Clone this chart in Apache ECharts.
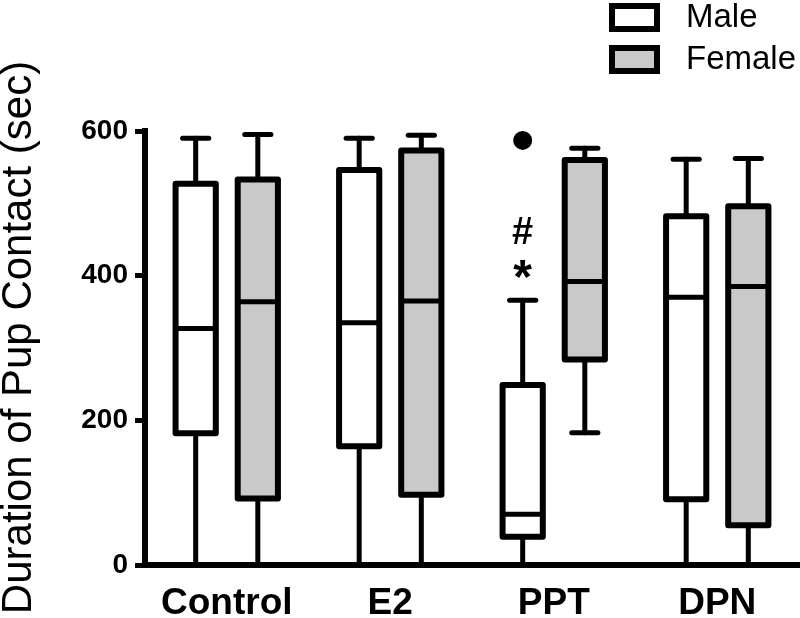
<!DOCTYPE html>
<html>
<head>
<meta charset="utf-8">
<script src="https://cdn.jsdelivr.net/npm/echarts@6/dist/echarts.min.js"></script>
<style>
html, body { margin: 0; padding: 0; background: #fff; }
#main { width: 800px; height: 618px; }
</style>
</head>
<body>
<div id="main"></div>
<script>
// groups on the x axis
const categories = ['Control', 'E2', 'PPT', 'DPN']
// [min, Q1, median, Q3, max] per group
const maleBox = [
  [0, 182, 327, 527, 590],
  [0, 164, 335, 546, 590],
  [0, 39, 70, 249, 366],
  [0, 91, 370, 482, 561]
]
const femaleBox = [
  [0, 92, 364, 533, 595],
  [0, 97, 365, 573, 594],
  [183, 284, 392, 560, 576],
  [0, 55, 385, 496, 562]
]
// [group index, value]
const maleOutliers = [[2, 587]]
// significance marks: [group index, text, value]
const marks = [[2, '#', 458], [2, '*', 395]]
const yTicks = [0, 200, 400, 600]

const femaleFill = '#c9c9c9'
const font = 'Liberation Sans, Arial, sans-serif'

// side: -1 male (left), 1 female (right)
function boxItem(side, fill) {
  return function (params, api) {
    let i = api.value(0)
    let band = api.size([1, 0])[0]
    let x = api.coord([i, 0])[0] + side * band * 0.19
    let half = band * 0.123
    let cap = band * 0.08
    let y = [1, 2, 3, 4, 5].map(k => api.coord([i, api.value(k)])[1])
    let line = (x1, y1, x2, y2, w) => ({
      type: 'line',
      shape: { x1, y1, x2, y2 },
      style: { stroke: '#000', lineWidth: w, lineCap: 'round' }
    })
    return {
      type: 'group',
      children: [
        line(x, y[0], x, y[1], 5),
        line(x - cap, y[0], x + cap, y[0], 5),
        line(x, y[3], x, y[4], 5),
        line(x - cap, y[4], x + cap, y[4], 5),
        {
          type: 'rect',
          shape: { x: x - half, y: y[3], width: half * 2, height: y[1] - y[3] },
          style: { fill: fill, stroke: '#000', lineWidth: 6, lineJoin: 'round' }
        },
        line(x - half, y[2], x + half, y[2], 5)
      ]
    }
  }
}

let chart = echarts.init(document.getElementById('main'), null, { renderer: 'canvas' })

let option = {
  animation: false,
  grid: { left: 145, right: 1, top: 131, bottom: 53, containLabel: false, outerBoundsMode: 'none' },
  legend: {
    orient: 'vertical',
    left: 604,
    top: -4,
    itemWidth: 45,
    itemHeight: 23,
    itemGap: 9,
    selectedMode: false,
    textStyle: { fontSize: 33, lineHeight: 33, color: '#000', fontFamily: font, padding: [0, 0, 0, 24] },
    data: [
      { name: 'Male', icon: 'rect', itemStyle: { color: '#fff', borderColor: '#000', borderWidth: 6 } },
      { name: 'Female', icon: 'rect', itemStyle: { color: femaleFill, borderColor: '#000', borderWidth: 6 } }
    ]
  },
  xAxis: {
    type: 'category',
    data: categories,
    boundaryGap: true,
    axisLine: { lineStyle: { color: '#000', width: 6, cap: 'square' } },
    axisTick: { show: false },
    axisLabel: { interval: 0, color: '#000', fontSize: 37, fontWeight: 'bold', fontFamily: font, margin: 20 },
    splitLine: { show: false }
  },
  yAxis: {
    type: 'value',
    min: yTicks[0],
    max: yTicks[yTicks.length - 1],
    interval: yTicks[1] - yTicks[0],
    name: 'Duration of Pup Contact (sec)',
    nameLocation: 'middle',
    nameGap: 105,
    nameTextStyle: { color: '#000', fontSize: 42, fontFamily: font, padding: [0, 0, 0, 21] },
    axisLine: { show: true, lineStyle: { color: '#000', width: 6, cap: 'square' } },
    axisTick: { show: true, length: 10, lineStyle: { color: '#000', width: 5 } },
    axisLabel: { color: '#000', fontSize: 28, fontWeight: 'bold', fontFamily: font, margin: 17 },
    splitLine: { show: false }
  },
  series: [
    {
      name: 'Male',
      type: 'custom',
      renderItem: boxItem(-1, '#fff'),
      itemStyle: { color: '#fff', borderColor: '#000' },
      encode: { x: 0, y: [1, 2, 3, 4, 5] },
      data: maleBox.map((d, i) => [i].concat(d)),
      z: 3
    },
    {
      name: 'Female',
      type: 'custom',
      renderItem: boxItem(1, femaleFill),
      itemStyle: { color: femaleFill, borderColor: '#000' },
      encode: { x: 0, y: [1, 2, 3, 4, 5] },
      data: femaleBox.map((d, i) => [i].concat(d)),
      z: 3
    },
    {
      name: 'outliers',
      type: 'custom',
      renderItem: function (params, api) {
        let band = api.size([1, 0])[0]
        let p = api.coord([api.value(0), api.value(1)])
        return {
          type: 'circle',
          shape: { cx: p[0] - band * 0.19, cy: p[1], r: 9.5 },
          style: { fill: '#000' }
        }
      },
      data: maleOutliers,
      z: 3
    },
    {
      name: 'marks',
      type: 'custom',
      renderItem: function (params, api) {
        let band = api.size([1, 0])[0]
        let p = api.coord([api.value(0), api.value(2)])
        let txt = marks[params.dataIndex][1]
        return {
          type: 'text',
          x: p[0] - band * 0.19,
          y: p[1],
          style: {
            text: txt,
            fill: '#000',
            font: 'bold ' + (txt === '*' ? 48 : 38) + 'px ' + font,
            align: 'center',
            verticalAlign: 'middle'
          }
        }
      },
      data: marks,
      z: 3
    }
  ]
}

chart.setOption(option)
</script>
</body>
</html>
